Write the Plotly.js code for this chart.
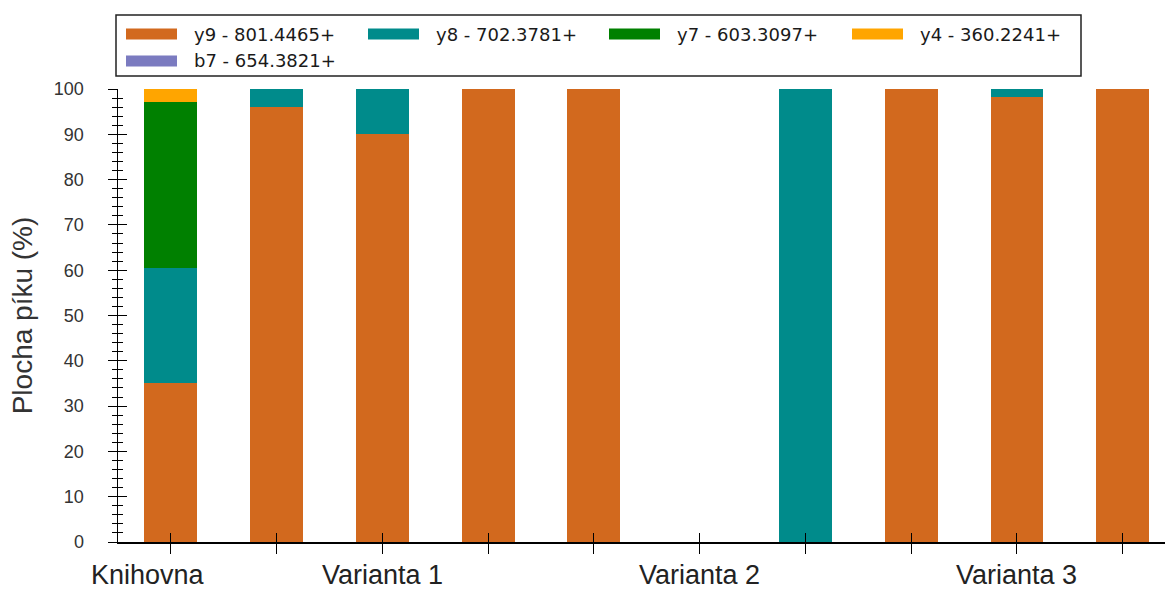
<!DOCTYPE html>
<html>
<head>
<meta charset="utf-8">
<script src="https://cdn.plot.ly/plotly-3.0.1.min.js"></script>
<style>html,body{margin:0;padding:0;background:#fff;}#chart{width:1165px;height:592px;}</style>
</head>
<body>
<div id="chart"></div>
<script>
// ---- data ----
const categories = [0, 1, 2, 3, 4, 5, 6, 7, 8, 9];
const groupLabels = ["Knihovna", "Varianta 1", "Varianta 2", "Varianta 3"];
const groupPositions = [0, 2, 5, 8];
const seriesNames = ["y9 - 801.4465+", "y8 - 702.3781+", "y7 - 603.3097+", "y4 - 360.2241+", "b7 - 654.3821+"];
const seriesColors = ["#D2691E", "#008B8B", "#008000", "#FFA500", "#7B7BC0"];
const y9 = [35.0, 96.0, 90.0, 100, 100, 0, 0, 100, 98.3, 100];
const y8 = [25.5, 4.0, 10.0, 0, 0, 0, 100, 0, 1.7, 0];
const y7 = [36.6, 0, 0, 0, 0, 0, 0, 0, 0, 0];
const y4 = [2.9, 0, 0, 0, 0, 0, 0, 0, 0, 0];
const b7 = [0, 0, 0, 0, 0, 0, 0, 0, 0, 0];
const seriesValues = [y9, y8, y7, y4, b7];
const yTitle = "Plocha píku (%)";

// ---- geometry helpers ----
const W = 1165, H = 592;
const M = {l: 118, r: 0, t: 89, b: 50};
const PW = W - M.l - M.r, PH = H - M.t - M.b;
const px = x => (x - M.l) / PW;
const py = y => (H - M.b - y) / PH;

const traces = seriesNames.map((name, i) => ({
  type: "bar",
  name: name,
  x: categories,
  y: seriesValues[i],
  width: 0.5,
  marker: {color: seriesColors[i], line: {width: 0}},
  showlegend: false,
  hoverinfo: "x+y+name"
}));
// invisible helper trace so the overlaid tick axes get drawn
traces.push({type: "scatter", mode: "markers", x: [categories[0]], y: [0],
  xaxis: "x2", yaxis: "y2", marker: {opacity: 0}, showlegend: false, hoverinfo: "skip"});

const font = "Liberation Sans, Arial, sans-serif";
const shapes = [];
const annotations = [];

// legend box
shapes.push({type: "rect", xref: "paper", yref: "paper",
  x0: px(116), x1: px(1081), y0: py(76), y1: py(15),
  line: {color: "#222", width: 1.5}, fillcolor: "rgba(0,0,0,0)"});
const colX = [126, 368, 609, 852];
const rowY = [34, 61];
seriesNames.forEach((name, i) => {
  const c = i % 4, r = Math.floor(i / 4);
  const sx = colX[c], sy = rowY[r];
  shapes.push({type: "rect", xref: "paper", yref: "paper",
    x0: px(sx), x1: px(sx + 51), y0: py(sy + 5.5), y1: py(sy - 5.5),
    line: {width: 0}, fillcolor: seriesColors[i]});
  annotations.push({xref: "paper", yref: "paper", x: px(sx + 66), y: py(sy),
    xanchor: "left", yanchor: "middle", showarrow: false, text: name,
    font: {family: "DejaVu Sans, sans-serif", size: 18, color: "#1a1a1a"}});
});

// group labels
groupLabels.forEach((lab, i) => {
  annotations.push({xref: "x", yref: "paper", x: groupPositions[i], y: py(575),
    xanchor: "center", yanchor: "middle", showarrow: false, text: lab,
    xshift: i === 0 ? -23 : 0, borderpad: 0,
    font: {family: font, size: 27, color: "#222"}});
});

const layout = {
  width: W, height: H,
  margin: M,
  paper_bgcolor: "#fff", plot_bgcolor: "#fff",
  barmode: "stack",
  showlegend: false,
  font: {family: font, color: "#333"},
  xaxis: {
    range: [-0.5, 9.4], tickmode: "array", tickvals: categories, ticktext: categories.map(() => ""),
    ticks: "outside", ticklen: 10, tickwidth: 1, tickcolor: "#000",
    showline: true, linecolor: "#000", linewidth: 1.5, showgrid: false, zeroline: false,
    fixedrange: true
  },
  xaxis2: {
    overlaying: "x", range: [-0.5, 9.4], tickmode: "array", tickvals: categories,
    showticklabels: false, ticks: "inside", ticklen: 9, tickwidth: 1, tickcolor: "#000",
    showline: false, showgrid: false, zeroline: false, anchor: "y", side: "bottom"
  },
  yaxis: {
    range: [0, 100], tickmode: "linear", tick0: 0, dtick: 10,
    ticks: "outside", ticklen: 9, tickwidth: 1, tickcolor: "#000",
    minor: {dtick: 2, ticks: "outside", ticklen: 5, tickwidth: 1, tickcolor: "#000", showgrid: false},
    showline: true, linecolor: "#000", linewidth: 1.5, showgrid: false, zeroline: false,
    tickfont: {family: font, size: 18, color: "#333"},
    ticklabelstandoff: 20,
    title: {text: yTitle, font: {family: font, size: 28, color: "#333"}, standoff: 13},
    fixedrange: true
  },
  yaxis2: {
    overlaying: "y", range: [0, 100], tickmode: "linear", tick0: 0, dtick: 10,
    ticks: "inside", ticklen: 9, tickwidth: 1, tickcolor: "#000",
    minor: {dtick: 2, ticks: "inside", ticklen: 5, tickwidth: 1, tickcolor: "#000", showgrid: false},
    showticklabels: false, showline: false, showgrid: false, zeroline: false, anchor: "x", side: "left"
  },
  shapes: shapes,
  annotations: annotations,
  bargap: 0.5
};

Plotly.newPlot("chart", traces, layout, {displayModeBar: false, staticPlot: true});
</script>
</body>
</html>
